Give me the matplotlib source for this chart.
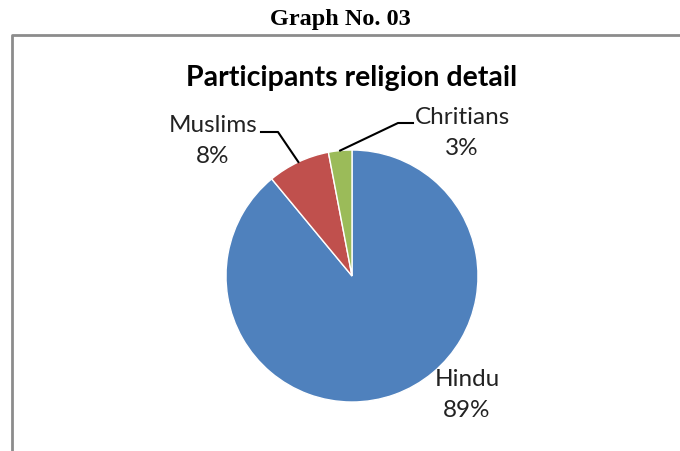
import numpy as np
import matplotlib.pyplot as plt

# Datos del grafico
labels = ['Hindu', 'Muslims', 'Chritians']
values = [89, 8, 3]
colors = ['#4F81BD', '#C0504D', '#9BBB59']

W, H = 680, 451
fig = plt.figure(figsize=(6.8, 4.51), dpi=100)
ax = fig.add_axes([0, 0, 1, 1])

def Y(y):
    return H - y

cx, cy, r = 352, 276, 126
wedges, _ = ax.pie(values, colors=colors, startangle=90, counterclock=False,
                   center=(cx, Y(cy)), radius=r, frame=True,
                   wedgeprops=dict(linewidth=1, edgecolor='white'))
ax.set_xlim(0, W)
ax.set_ylim(0, H)
ax.axis('off')

# Borde del recuadro
ax.plot([12, 12, W + 5], [Y(H + 5), Y(35), Y(35)], color='#8c8c8c', lw=2,
        solid_capstyle='butt', clip_on=False)

fig.text(340 / W, 1 - 19 / H, 'Graph No. 03', family='Liberation Serif',
         weight='bold', fontsize=17.5, ha='center', va='center')
ax.text(352, Y(78), 'Participants religion detail', family='Lato',
        weight='bold', fontsize=20.5, ha='center', va='center')

# Etiquetas
pos = {'Hindu': (467, 395), 'Muslims': (213, 141), 'Chritians': (462, 133)}
for w, lab, v in zip(wedges, labels, values):
    tx, ty = pos[lab]
    ax.text(tx, Y(ty), f'{lab}\n{v}%', family='Lato', fontsize=17.5,
            ha='center', va='center', linespacing=1.6, color='#222222')

# Lineas guia
for w, elbow, end in [(wedges[1], (278, 132), (261, 132)),
                      (wedges[2], (398, 123), (413, 123))]:
    ang = np.deg2rad((w.theta1 + w.theta2) / 2)
    px, py = cx + r * np.cos(ang), Y(cy) + r * np.sin(ang)
    ax.plot([px, elbow[0], end[0]], [py, Y(elbow[1]), Y(end[1])],
            color='black', lw=1.5)

fig.savefig('out.png', dpi=100)
